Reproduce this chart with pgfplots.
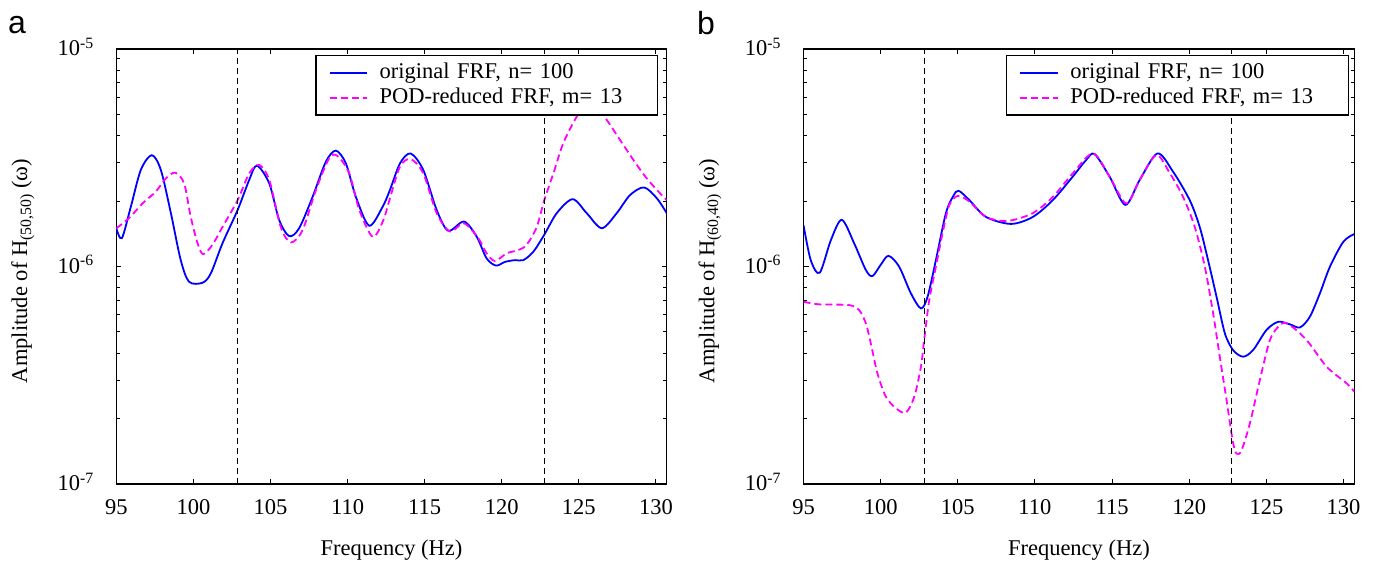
\documentclass[border=0pt]{standalone}
\usepackage{fontspec}
\setmainfont{Liberation Serif}
\newfontfamily\panelfont{Liberation Sans}
\usepackage{pgfplots}
\pgfplotsset{compat=1.18}
\newcommand\fs{\fontsize{22.5}{27}\selectfont}
\definecolor{fblue}{RGB}{0,0,255}
\definecolor{fmag}{RGB}{255,0,255}

\begin{document}
\begin{tikzpicture}
\path[use as bounding box] (0pt,0pt) rectangle (1375pt,560pt);

\node[anchor=base west, font=\panelfont\fontsize{32}{36}\selectfont, inner sep=0pt] at (8pt,526pt) {a};
\node[anchor=base west, font=\panelfont\fontsize{32}{36}\selectfont, inner sep=0pt] at (697pt,525pt) {b};

% ---------------- panel a ----------------
\begin{axis}[ymode=log, scale only axis, width=550.4pt, height=435pt, at={(116.3pt,76pt)}, anchor=south west,
    xmin=95, xmax=130.7, ymin=1e-7, ymax=1e-5,
    xtick={95,100,...,130},
    ytick={1e-7,1e-6,1e-5},
    yticklabels={10\textsuperscript{-7},10\textsuperscript{-6},10\textsuperscript{-5}},
    tick align=inside, tick pos=both,
    major tick length=5pt, minor tick length=3.5pt,
    major tick style={line width=1.1pt, black},
    minor tick style={line width=1pt, black},
    axis line style={line width=1.4pt, black},
    tick label style={font=\fs},
    label style={font=\fs},
    xticklabel style={yshift=-12pt},
    yticklabel style={xshift=-19pt, yshift=2pt},
    /pgf/number format/assume math mode=true,
    xlabel={Frequency (Hz)},
    xlabel style={at={(axis description cs:0.5,-0.1632)}, anchor=base},
    ylabel style={at={(axis description cs:-0.1618,0.49)}, anchor=base},
    legend cell align=left,
    legend style={
      at={(axis description cs:0.9847,0.986)}, anchor=north east,
      draw=black, line width=1.3pt, fill=white,
      inner xsep=12.7pt, inner ysep=4.6pt,
      font=\fs,
      nodes={inner xsep=0pt, inner ysep=2pt, text height=16pt, text depth=5pt, text width=277pt},
    },
    legend image code/.code={\draw[#1] (0pt,0pt) -- (37.3pt,0pt);},
    ylabel={Amplitude of H\textsubscript{(50,50)} (ω)}]
\addplot[fblue, line width=1.8pt, solid, smooth, tension=0.5, mark=none] coordinates {
(95.0,1.50e-6) (95.36,1.35e-6) (95.94,1.88e-6) (96.59,2.78e-6) (97.30,3.25e-6) (97.89,2.78e-6)
(98.54,1.76e-6) (99.18,1.07e-6) (99.72,8.51e-7) (100.59,8.42e-7) (101.13,9.30e-7) (101.89,1.28e-6)
(102.87,1.82e-6) (103.62,2.50e-6) (104.12,2.91e-6) (104.92,2.41e-6) (105.56,1.64e-6) (106.21,1.38e-6)
(106.86,1.50e-6) (107.73,2.09e-6) (108.59,3.03e-6) (109.24,3.41e-6) (109.89,2.98e-6) (110.54,2.09e-6)
(111.40,1.54e-6) (112.27,1.88e-6) (112.75,2.25e-6) (113.40,2.98e-6) (114.09,3.31e-6) (114.91,2.78e-6)
(115.78,1.82e-6) (116.53,1.46e-6) (117.55,1.61e-6) (118.38,1.37e-6) (119.02,1.09e-6) (119.63,1.01e-6)
(120.21,1.05e-6) (120.86,1.07e-6) (121.40,1.07e-6) (122.05,1.17e-6) (122.76,1.40e-6) (123.57,1.76e-6)
(124.60,2.04e-6) (125.51,1.76e-6) (126.49,1.50e-6) (127.46,1.76e-6) (128.32,2.13e-6) (129.23,2.31e-6)
(130.06,2.06e-6) (130.7,1.76e-6)
};
\addlegendentry{\hspace*{11.7pt}original FRF, n= 100}
\addplot[fmag, line width=1.8pt, dash pattern=on 7pt off 4pt, smooth, tension=0.5, mark=none] coordinates {
(95.0,1.50e-6) (95.83,1.67e-6) (96.70,1.95e-6) (97.56,2.21e-6) (98.21,2.54e-6) (98.82,2.70e-6)
(99.40,2.41e-6) (99.83,1.69e-6) (100.27,1.28e-6) (100.63,1.14e-6) (101.24,1.26e-6) (101.89,1.52e-6)
(102.87,2.02e-6) (103.62,2.68e-6) (104.27,2.93e-6) (104.92,2.50e-6) (105.67,1.52e-6) (106.32,1.29e-6)
(107.08,1.47e-6) (107.95,2.25e-6) (108.81,3.15e-6) (109.35,3.22e-6) (110.11,2.68e-6) (110.76,1.82e-6)
(111.63,1.37e-6) (112.30,1.62e-6) (112.75,2.06e-6) (113.40,2.88e-6) (114.09,3.12e-6) (114.91,2.68e-6)
(115.78,1.76e-6) (116.64,1.45e-6) (117.55,1.58e-6) (118.48,1.35e-6) (119.02,1.15e-6) (119.56,1.06e-6)
(120.32,1.15e-6) (121.07,1.19e-6) (121.62,1.26e-6) (122.27,1.52e-6) (122.76,2.02e-6) (123.35,2.68e-6)
(123.99,3.69e-6) (124.86,4.88e-6) (125.73,5.95e-6) (126.81,4.72e-6) (127.67,3.82e-6) (128.54,3.09e-6)
(129.41,2.54e-6) (130.27,2.17e-6) (130.7,2.02e-6)
};
\addlegendentry{\hspace*{11.7pt}POD-reduced FRF, m= 13}
\addplot[black, line width=1.1pt, dash pattern=on 6pt off 4pt, forget plot, mark=none] coordinates {(102.85,1e-7) (102.85,1e-5)};
\addplot[black, line width=1.1pt, dash pattern=on 6pt off 4pt, forget plot, mark=none] coordinates {(122.75,1e-7) (122.75,1e-5)};
\end{axis}

% ---------------- panel b ----------------
\begin{axis}[ymode=log, scale only axis, width=550.8pt, height=435pt, at={(803.5pt,76pt)}, anchor=south west,
    xmin=95, xmax=130.7, ymin=1e-7, ymax=1e-5,
    xtick={95,100,...,130},
    ytick={1e-7,1e-6,1e-5},
    yticklabels={10\textsuperscript{-7},10\textsuperscript{-6},10\textsuperscript{-5}},
    tick align=inside, tick pos=both,
    major tick length=5pt, minor tick length=3.5pt,
    major tick style={line width=1.1pt, black},
    minor tick style={line width=1pt, black},
    axis line style={line width=1.4pt, black},
    tick label style={font=\fs},
    label style={font=\fs},
    xticklabel style={yshift=-12pt},
    yticklabel style={xshift=-19pt, yshift=2pt},
    /pgf/number format/assume math mode=true,
    xlabel={Frequency (Hz)},
    xlabel style={at={(axis description cs:0.5,-0.1632)}, anchor=base},
    ylabel style={at={(axis description cs:-0.1618,0.49)}, anchor=base},
    legend cell align=left,
    legend style={
      at={(axis description cs:0.9903,0.986)}, anchor=north east,
      draw=black, line width=1.3pt, fill=white,
      inner xsep=12.7pt, inner ysep=4.6pt,
      font=\fs,
      nodes={inner xsep=0pt, inner ysep=2pt, text height=16pt, text depth=5pt, text width=277pt},
    },
    legend image code/.code={\draw[#1] (0pt,0pt) -- (37.3pt,0pt);},
    ylabel={Amplitude of H\textsubscript{(60,40)} (ω)}]
\addplot[fblue, line width=1.8pt, solid, smooth, tension=0.5, mark=none] coordinates {
(95.0,1.55e-6) (95.47,1.07e-6) (96.05,9.36e-7) (96.77,1.32e-6) (97.48,1.64e-6) (98.28,1.28e-6)
(99.04,9.64e-7) (99.47,9.04e-7) (100.01,1.02e-6) (100.51,1.12e-6) (101.20,9.98e-7) (101.96,7.53e-7)
(102.61,6.42e-7) (103.04,7.26e-7) (103.58,1.07e-6) (104.23,1.76e-6) (104.71,2.11e-6) (105.05,2.23e-6)
(105.75,2.02e-6) (106.83,1.69e-6) (108.45,1.57e-6) (109.86,1.69e-6) (111.16,2.02e-6) (112.45,2.59e-6)
(113.32,3.09e-6) (113.86,3.29e-6) (114.84,2.59e-6) (115.86,1.92e-6) (116.79,2.50e-6) (117.94,3.31e-6)
(118.95,2.73e-6) (120.03,2.02e-6) (120.68,1.52e-6) (121.22,1.07e-6) (121.77,7.26e-7) (122.31,4.93e-7)
(122.84,4.13e-7) (123.49,3.85e-7) (124.14,4.13e-7) (125.01,5.11e-7) (125.77,5.57e-7) (126.53,5.42e-7)
(127.18,5.25e-7) (127.82,5.88e-7) (128.47,7.53e-7) (129.12,9.98e-7) (129.99,1.30e-6) (130.7,1.41e-6)
};
\addlegendentry{\hspace*{11.7pt}original FRF, n= 100}
\addplot[fmag, line width=1.8pt, dash pattern=on 7pt off 4pt, smooth, tension=0.5, mark=none] coordinates {
(95.0,6.89e-7) (96.01,6.70e-7) (97.95,6.65e-7) (98.60,6.31e-7) (99.04,5.48e-7) (99.36,4.44e-7)
(99.79,3.23e-7) (100.34,2.52e-7) (100.99,2.23e-7) (101.64,2.13e-7) (102.18,2.52e-7) (102.61,3.46e-7)
(102.82,4.59e-7) (103.15,7.01e-7) (103.58,9.98e-7) (104.01,1.42e-6) (104.45,1.92e-6) (104.99,2.11e-6)
(105.75,1.99e-6) (106.83,1.69e-6) (108.23,1.62e-6) (109.86,1.76e-6) (111.16,2.09e-6) (112.45,2.68e-6)
(113.77,3.31e-6) (114.84,2.59e-6) (115.92,1.95e-6) (116.79,2.50e-6) (117.87,3.25e-6) (118.75,2.68e-6)
(119.60,2.09e-6) (120.36,1.52e-6) (121.01,9.98e-7) (121.55,6.09e-7) (121.98,3.85e-7) (122.42,2.43e-7)
(122.81,1.59e-7) (123.06,1.38e-7) (123.39,1.43e-7) (123.93,1.90e-7) (124.58,3.01e-7) (125.23,4.59e-7)
(125.88,5.38e-7) (126.42,5.44e-7) (127.61,4.59e-7) (128.91,3.46e-7) (130.21,2.90e-7) (130.7,2.66e-7)
};
\addlegendentry{\hspace*{11.7pt}POD-reduced FRF, m= 13}
\addplot[black, line width=1.1pt, dash pattern=on 6pt off 4pt, forget plot, mark=none] coordinates {(102.85,1e-7) (102.85,1e-5)};
\addplot[black, line width=1.1pt, dash pattern=on 6pt off 4pt, forget plot, mark=none] coordinates {(122.72,1e-7) (122.72,1e-5)};
\end{axis}
\end{tikzpicture}
\end{document}
